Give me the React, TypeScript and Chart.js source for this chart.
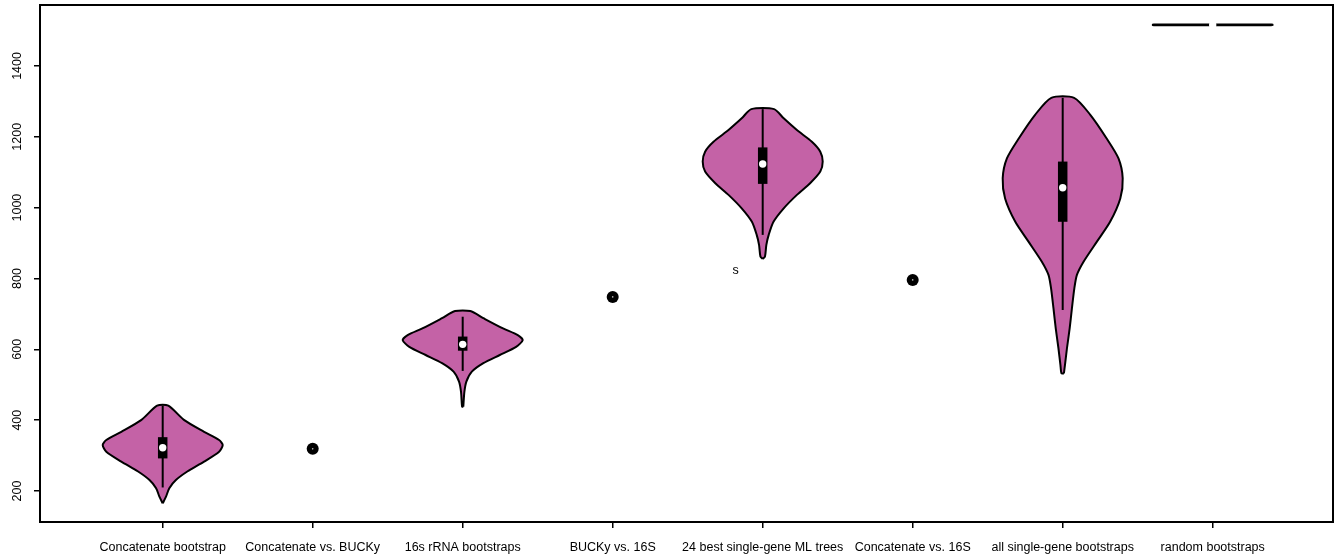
import React, { useEffect, useRef } from "react";
import { Chart, registerables } from "chart.js";

Chart.register(...registerables);

// ---------- data ----------
const categories = [
  "Concatenate bootstrap",
  "Concatenate vs. BUCKy",
  "16s rRNA bootstraps",
  "BUCKy vs. 16S",
  "24 best single-gene ML trees",
  "Concatenate vs. 16S",
  "all single-gene bootstraps",
  "random bootstraps",
];
const yTicks = [200, 400, 600, 800, 1000, 1200, 1400];

// violin outlines: values (bottom -> top) and relative density widths
const v1Y = [165, 184, 208, 231, 255, 283, 311, 330, 344, 367, 400, 441];
const v1W = [0, 0.055, 0.11, 0.22, 0.41, 0.69, 0.94, 1.0, 0.94, 0.69, 0.36, 0.093];
const v3Y = [438, 480, 509, 537, 561, 584, 607, 626, 640, 659, 688, 708];
const v3W = [0.01, 0.028, 0.061, 0.152, 0.344, 0.618, 0.89, 1.0, 0.918, 0.672, 0.344, 0.126];
const v5Y = [855, 862, 895, 923, 960, 998, 1036, 1069, 1102, 1130, 1158, 1186, 1219, 1252, 1278];
const v5W = [0, 0.038, 0.061, 0.1, 0.18, 0.35, 0.57, 0.79, 0.96, 1.0, 0.96, 0.82, 0.57, 0.35, 0.19];
const v7Y = [532, 556, 603, 659, 716, 772, 810, 848, 904, 960, 1026, 1083, 1139, 1196, 1262, 1310];
const v7W = [0.02, 0.038, 0.071, 0.116, 0.154, 0.194, 0.237, 0.35, 0.57, 0.79, 0.96, 1.0, 0.93, 0.73, 0.46, 0.19];
const v8Y = [1515.0, 1515.8, 1516.6];
const v8W = [0.98, 1.0, 0.98];

const violinPos = [1, 3, 5, 7, 8];
const violinYs = [v1Y, v3Y, v5Y, v7Y, v8Y];
const violinWs = [v1W, v3W, v5W, v7W, v8W];

// box statistics for the violins
const boxLow = [210, 539, 923, 711, 1515.8];
const boxQ1 = [292, 596, 1067, 960, 1515.8];
const boxMed = [322, 614, 1123, 1056, 1515.8];
const boxQ3 = [352, 636, 1170, 1130, 1515.8];
const boxHigh = [441, 692, 1278, 1310, 1515.8];

// single-value groups
const singlePos = [2, 4, 6];
const singleVal = [319, 748, 796];

// stray annotation
const noteX = [4.82];
const noteY = [821];
const noteText = ["s"];

// ---------- styles ----------
const FILL = "rgb(196, 98, 166)";
const HALF = 0.4;
const FONT = "'Liberation Sans', Arial, Helvetica, sans-serif";

function polygon(pos: number, ys: number[], ws: number[]) {
  const right = ys.map((y, i) => ({ x: pos + ws[i] * HALF, y }));
  const left = ys.map((y, i) => ({ x: pos - ws[i] * HALF, y })).reverse();
  return [...right, ...left, right[0]];
}

const framePlugin = {
  id: "frame",
  afterDatasetsDraw(chart: any) {
    const { ctx, chartArea } = chart;
    const ys = chart.scales.y;
    const xs = chart.scales.x;
    ctx.save();
    ctx.strokeStyle = "#000";
    ctx.lineWidth = 2;
    ctx.strokeRect(chartArea.left, chartArea.top, chartArea.right - chartArea.left, chartArea.bottom - chartArea.top);
    ctx.fillStyle = "#000";
    ctx.font = `12.5px ${FONT}`;
    ctx.textAlign = "center";
    ctx.textBaseline = "middle";
    yTicks.forEach((t) => {
      const py = ys.getPixelForValue(t);
      ctx.save();
      ctx.translate(18, py);
      ctx.rotate(-Math.PI / 2);
      ctx.fillText(String(t), 0, 0);
      ctx.restore();
    });
    noteText.forEach((s, i) => {
      ctx.fillText(s, xs.getPixelForValue(noteX[i]), ys.getPixelForValue(noteY[i]));
    });
    ctx.restore();
  },
};

export default function App() {
  const ref = useRef<HTMLCanvasElement | null>(null);

  useEffect(() => {
    document.body.style.margin = "0";
    const canvas = ref.current;
    if (!canvas) return;

    const datasets: any[] = [];
    violinPos.forEach((pos, i) => {
      datasets.push({
        type: "line",
        data: polygon(pos, violinYs[i], violinWs[i]),
        borderColor: "#000",
        borderWidth: 2,
        backgroundColor: FILL,
        fill: "shape",
        pointRadius: 0,
        tension: 0.25,
        borderJoinStyle: "round",
        order: 10,
      });
      if (boxHigh[i] > boxLow[i]) {
        datasets.push({
          type: "line",
          data: [
            { x: pos, y: boxLow[i] },
            { x: pos, y: boxHigh[i] },
          ],
          borderColor: "#000",
          borderWidth: 2,
          pointRadius: 0,
          fill: false,
          order: 8,
        });
      }
      if (boxQ3[i] > boxQ1[i]) {
        datasets.push({
          type: "line",
          data: [
            { x: pos, y: boxQ1[i] },
            { x: pos, y: boxQ3[i] },
          ],
          borderColor: "#000",
          borderWidth: 9.5,
          borderCapStyle: "butt",
          pointRadius: 0,
          fill: false,
          order: 6,
        });
      }
    });
    datasets.push({
      type: "scatter",
      data: violinPos.map((p, i) => ({ x: p, y: boxMed[i] })),
      pointRadius: 3.7,
      pointBackgroundColor: "#fff",
      pointBorderWidth: 0,
      borderWidth: 0,
      order: 2,
    });
    datasets.push({
      type: "scatter",
      data: singlePos.map((p, i) => ({ x: p, y: singleVal[i] })),
      pointRadius: 6,
      pointBackgroundColor: "#000",
      pointBorderWidth: 0,
      borderWidth: 0,
      order: 4,
    });
    datasets.push({
      type: "scatter",
      data: singlePos.map((p, i) => ({ x: p, y: singleVal[i] })),
      pointRadius: 0.8,
      pointBackgroundColor: "#bbb",
      pointBorderWidth: 0,
      borderWidth: 0,
      order: 1,
    });

    const chart = new Chart(canvas, {
      type: "line",
      data: { datasets },
      options: {
        animation: false,
        responsive: false,
        maintainAspectRatio: false,
        layout: { autoPadding: false, padding: { top: 5, right: 2, left: 0, bottom: 0 } },
        plugins: {
          legend: { display: false },
          tooltip: { enabled: false },
          filler: { propagate: false },
        },
        scales: {
          x: {
            type: "linear",
            min: 0.182,
            max: 8.802,
            afterBuildTicks: (scale: any) => {
              scale.ticks = categories.map((_, i) => ({ value: i + 1 }));
            },
            afterFit: (scale: any) => {
              scale.height = 34;
            },
            ticks: {
              autoSkip: false,
              maxRotation: 0,
              minRotation: 0,
              padding: 12,
              color: "#000",
              font: { size: 12.5, family: FONT },
              callback: (_v: any, i: number) => categories[i],
            },
            grid: {
              drawOnChartArea: false,
              drawTicks: true,
              tickLength: 6,
              color: "#000",
              lineWidth: 1.5,
            },
            border: { display: false },
          },
          y: {
            type: "linear",
            min: 112.5,
            max: 1572,
            afterBuildTicks: (scale: any) => {
              scale.ticks = yTicks.map((v) => ({ value: v }));
            },
            afterFit: (scale: any) => {
              scale.width = 40;
            },
            ticks: { display: false },
            grid: {
              drawOnChartArea: false,
              drawTicks: true,
              tickLength: 6,
              color: "#000",
              lineWidth: 1.5,
            },
            border: { display: false },
          },
        },
      },
      plugins: [framePlugin],
    });
    return () => chart.destroy();
  }, []);

  return (
    <div style={{ width: 1335, height: 556, background: "#fff" }}>
      <canvas ref={ref} width={1335} height={556} style={{ width: 1335, height: 556, display: "block" }} />
    </div>
  );
}
